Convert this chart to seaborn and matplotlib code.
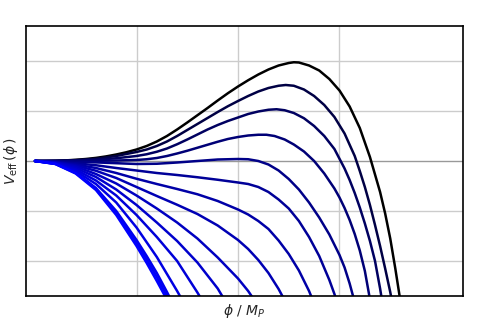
import matplotlib
matplotlib.use("Agg")
import matplotlib.pyplot as plt
import seaborn as sns
import pandas as pd

# ---- data (phi and V in units of one grid step) ----
phi_1 = [0, 0.1, 0.2, 0.3, 0.4, 0.5, 0.6, 0.7, 0.8, 0.9, 1.0, 1.1, 1.2, 1.3, 1.4, 1.5, 1.6, 1.7, 1.8, 1.9,
         2.0, 2.1, 2.2, 2.3, 2.4, 2.5, 2.55, 2.6, 2.7, 2.8, 2.9, 3.0, 3.1, 3.2, 3.3, 3.4, 3.45, 3.5, 3.55, 3.6, 3.63]
V_1 = [0, 0.001, 0.005, 0.012, 0.024, 0.04, 0.062, 0.092, 0.13, 0.175, 0.23, 0.30, 0.39, 0.50, 0.63, 0.77, 0.915, 1.06, 1.21, 1.355,
       1.49, 1.615, 1.73, 1.83, 1.91, 1.96, 1.975, 1.97, 1.91, 1.81, 1.64, 1.41, 1.09, 0.66, 0.08, -0.62, -1.05, -1.55, -2.15, -2.8, -3.2]

phi_2 = [0, 0.2, 0.4, 0.6, 0.8, 1.0, 1.1, 1.2, 1.3, 1.4, 1.5, 1.6, 1.7, 1.8, 1.9, 2.0, 2.1, 2.2, 2.3, 2.4,
         2.47, 2.55, 2.65, 2.75, 2.85, 2.95, 3.05, 3.15, 3.2, 3.25, 3.3, 3.35, 3.4, 3.45, 3.5, 3.54]
V_2 = [0, 0.004, 0.018, 0.045, 0.10, 0.18, 0.23, 0.30, 0.39, 0.50, 0.62, 0.74, 0.86, 0.98, 1.095, 1.20, 1.30, 1.39, 1.46, 1.505,
       1.52, 1.505, 1.43, 1.30, 1.12, 0.88, 0.55, 0.10, -0.20, -0.52, -0.88, -1.28, -1.70, -2.15, -2.62, -3.05]

phi_3 = [0, 0.2, 0.4, 0.6, 0.8, 1.0, 1.1, 1.2, 1.3, 1.4, 1.5, 1.6, 1.7, 1.8, 1.9, 2.0, 2.1, 2.2, 2.3, 2.38,
         2.46, 2.55, 2.65, 2.75, 2.85, 2.95, 3.05, 3.1, 3.15, 3.2, 3.25, 3.3, 3.35, 3.4, 3.44]
V_3 = [0, 0.002, 0.01, 0.025, 0.055, 0.10, 0.135, 0.185, 0.25, 0.335, 0.43, 0.53, 0.63, 0.72, 0.80, 0.87, 0.94, 0.99, 1.025, 1.035,
       1.015, 0.96, 0.855, 0.70, 0.50, 0.24, -0.15, -0.38, -0.64, -0.93, -1.25, -1.60, -2.0, -2.55, -3.05]

phi_4 = [0, 0.3, 0.6, 0.8, 1.0, 1.1, 1.2, 1.3, 1.4, 1.5, 1.6, 1.7, 1.8, 1.9, 2.0, 2.1, 2.2, 2.28, 2.36, 2.46,
         2.55, 2.65, 2.75, 2.85, 2.95, 3.0, 3.05, 3.1, 3.15, 3.2, 3.25, 3.29, 3.33]
V_4 = [0, 0.0, 0.004, 0.01, 0.02, 0.035, 0.06, 0.10, 0.15, 0.205, 0.265, 0.325, 0.385, 0.44, 0.48, 0.51, 0.525, 0.525, 0.50, 0.43,
       0.33, 0.19, 0.0, -0.25, -0.55, -0.73, -0.94, -1.18, -1.46, -1.79, -2.20, -2.65, -3.15]

phi_5 = [0, 0.25, 0.5, 0.75, 1.0, 1.2, 1.4, 1.6, 1.8, 2.0, 2.1, 2.2, 2.3, 2.4, 2.5, 2.6, 2.7, 2.8, 2.9, 3.0,
         3.05, 3.1, 3.14, 3.18]
V_5 = [0, -0.005, -0.02, -0.04, -0.06, -0.055, -0.03, 0.0, 0.03, 0.04, 0.035, 0.0, -0.07, -0.19, -0.36, -0.57, -0.83, -1.13, -1.47, -1.88,
       -2.13, -2.45, -2.75, -3.1]

phi_6 = [0, 0.2, 0.4, 0.6, 0.8, 1.0, 1.2, 1.4, 1.6, 1.8, 2.0, 2.1, 2.2, 2.3, 2.4, 2.5, 2.6, 2.7, 2.8, 2.9,
         2.95, 3.0, 3.02]
V_6 = [0, -0.013, -0.045, -0.085, -0.14, -0.19, -0.24, -0.28, -0.325, -0.375, -0.43, -0.46, -0.52, -0.62, -0.77, -0.95, -1.20, -1.52, -1.90, -2.38,
       -2.66, -2.95, -3.1]

phi_7 = [0, 0.2, 0.4, 0.6, 0.8, 1.0, 1.2, 1.4, 1.6, 1.8, 2.0, 2.1, 2.2, 2.3, 2.4, 2.5, 2.6, 2.7, 2.72, 2.78]
V_7 = [0, -0.02, -0.07, -0.14, -0.24, -0.355, -0.46, -0.56, -0.665, -0.80, -0.97, -1.07, -1.20, -1.36, -1.59, -1.86, -2.19, -2.60, -2.70, -3.05]

phi_8 = [0, 0.2, 0.4, 0.6, 0.8, 1.0, 1.2, 1.4, 1.6, 1.8, 2.0, 2.1, 2.2, 2.3, 2.4, 2.45, 2.5]
V_8 = [0, -0.025, -0.09, -0.195, -0.34, -0.52, -0.70, -0.875, -1.06, -1.29, -1.58, -1.76, -1.98, -2.24, -2.56, -2.75, -2.97]

phi_9 = [0, 0.2, 0.4, 0.6, 0.8, 1.0, 1.2, 1.4, 1.6, 1.8, 2.0, 2.1, 2.15, 2.2]
V_9 = [0, -0.03, -0.11, -0.26, -0.45, -0.69, -0.95, -1.23, -1.55, -1.93, -2.35, -2.60, -2.75, -2.92]

phi_10 = [0, 0.2, 0.4, 0.6, 0.8, 1.0, 1.2, 1.4, 1.6, 1.8, 1.85, 1.9]
V_10 = [0, -0.035, -0.14, -0.32, -0.57, -0.88, -1.23, -1.60, -2.03, -2.55, -2.72, -2.9]

phi_11 = [0, 0.2, 0.4, 0.6, 0.8, 1.0, 1.2, 1.4, 1.6, 1.65, 1.7]
V_11 = [0, -0.045, -0.17, -0.39, -0.69, -1.08, -1.52, -2.0, -2.63, -2.8, -3.0]

phi_12 = [0, 0.2, 0.4, 0.6, 0.8, 1.0, 1.2, 1.4, 1.45, 1.5]
V_12 = [0, -0.05, -0.20, -0.46, -0.83, -1.33, -1.92, -2.60, -2.78, -2.96]

phi_13 = [0, 0.2, 0.4, 0.6, 0.8, 1.0, 1.1, 1.2, 1.3, 1.35, 1.4]
V_13 = [0, -0.055, -0.23, -0.54, -1.0, -1.58, -1.90, -2.24, -2.62, -2.82, -3.02]

phi_14 = [0, 0.2, 0.4, 0.6, 0.8, 1.0, 1.1, 1.2, 1.3, 1.35]
V_14 = [0, -0.058, -0.24, -0.56, -1.04, -1.64, -1.97, -2.32, -2.70, -2.9]

phi_15 = [0, 0.2, 0.4, 0.6, 0.8, 1.0, 1.1, 1.2, 1.28, 1.33]
V_15 = [0, -0.06, -0.25, -0.58, -1.08, -1.70, -2.04, -2.40, -2.70, -2.9]

phis = [phi_1, phi_2, phi_3, phi_4, phi_5, phi_6, phi_7, phi_8,
        phi_9, phi_10, phi_11, phi_12, phi_13, phi_14, phi_15]
Vs = [V_1, V_2, V_3, V_4, V_5, V_6, V_7, V_8,
      V_9, V_10, V_11, V_12, V_13, V_14, V_15]

rows = []
for k, (px, vy) in enumerate(zip(phis, Vs)):
    for a, b in zip(px, vy):
        rows.append({"curve": k, "phi": a, "V": b})
df = pd.DataFrame(rows)

n = len(phis)
colors = [(0.0, 0.0, (k / (n - 1)) ** 0.5) for k in range(n)]

sns.set_style("white")
fig = plt.figure(figsize=(4.91, 3.23), dpi=100)
ax = fig.add_axes([26 / 491, 27 / 323, 437 / 491, 270 / 323])

ax.set_xticks([1, 2, 3])
ax.set_yticks([-2, -1, 1, 2])
ax.grid(True, color="#cccccc", linewidth=1.0)
ax.axhline(0, color="#999999", linewidth=1.0, zorder=1)

sns.lineplot(data=df, x="phi", y="V", hue="curve", palette=colors,
             sort=False, estimator=None, legend=False, linewidth=1.8, ax=ax)

ax.set_xlim(-0.089, 4.217)
ax.set_ylim(-2.7, 2.7)
ax.tick_params(length=0, labelbottom=False, labelleft=False)
for s in ax.spines.values():
    s.set_color("black")
    s.set_linewidth(1.2)

ax.set_xlabel(r"$\phi\ /\ M_P$", fontsize=10, labelpad=4)
ax.set_ylabel(r"$V_{\rm eff}\,(\phi\,)$", fontsize=10, labelpad=4)

fig.savefig("out.png", dpi=100)
